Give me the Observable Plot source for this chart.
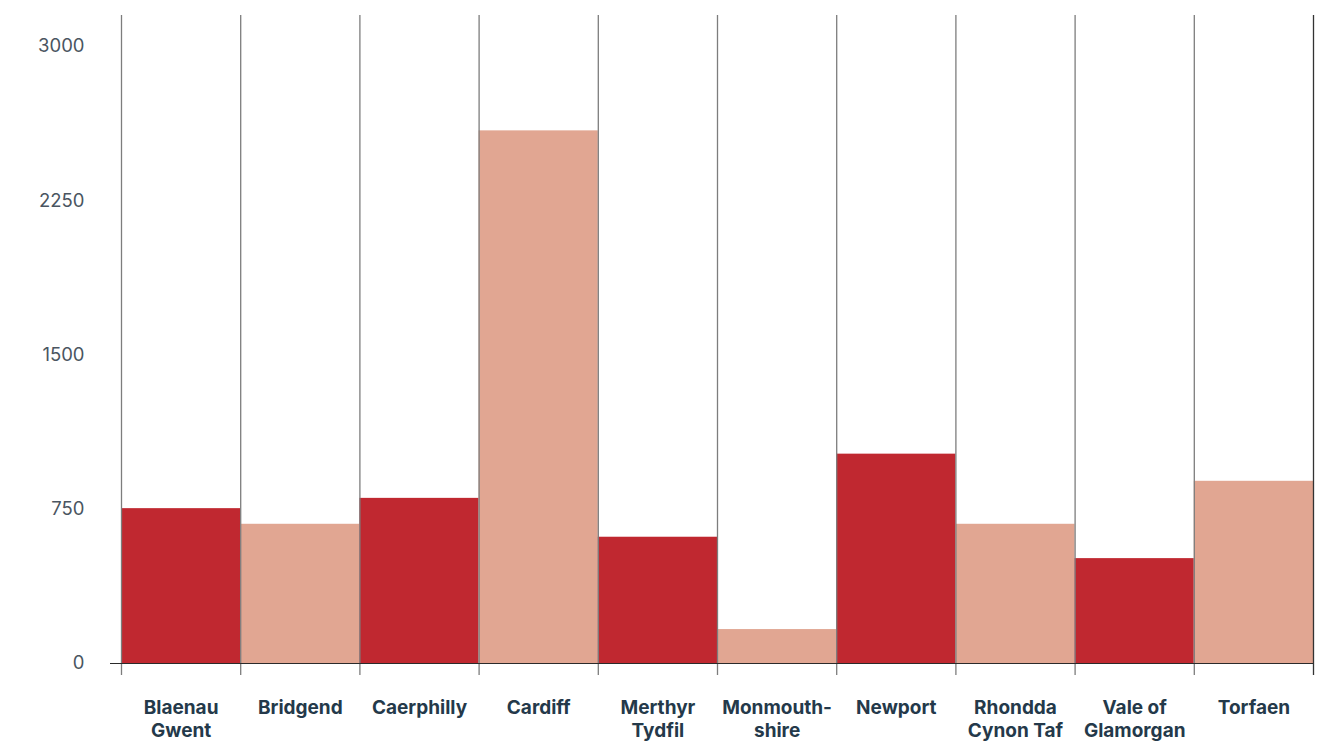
<!DOCTYPE html>
<html>
<head>
<meta charset="utf-8">
<script src="https://cdn.jsdelivr.net/npm/d3@7"></script>
<script src="https://cdn.jsdelivr.net/npm/@observablehq/plot@0.6"></script>
<style>
  html, body { margin: 0; padding: 0; background: #fff; }
  #chart svg { display: block; }
</style>
</head>
<body>
<div id="chart"></div>
<script>
const categories = ["Blaenau\nGwent", "Bridgend", "Caerphilly", "Cardiff", "Merthyr\nTydfil", "Monmouth-\nshire", "Newport", "Rhondda\nCynon Taf", "Vale of\nGlamorgan", "Torfaen"];
const values = [753, 677, 803, 2590, 614, 165, 1018, 677, 510, 886];
const yTicks = [0, 750, 1500, 2250, 3000];
const colors = ["#c02830", "#e1a692"];

const data = categories.map((name, i) => ({name, i, value: values[i], shade: i % 2}));
const boundaries = d3.range(categories.length + 1);
const yMax = 3151;

const chart = Plot.plot({
  width: 1329,
  height: 742,
  marginLeft: 121,
  marginRight: 16,
  marginTop: 15,
  marginBottom: 79,
  style: {fontFamily: "Inter, 'Noto Sans', sans-serif", background: "#fff"},
  x: {domain: [0, categories.length], axis: null},
  y: {domain: [0, yMax], axis: null},
  marks: [
    Plot.rectY(data, {x1: d => d.i, x2: d => d.i + 1, y: "value", fill: d => colors[d.shade]}),
    Plot.ruleX(boundaries, {x: d => d, y1: yMax, y2: 0, insetBottom: -12, stroke: d => d === categories.length ? "#333" : "#7d7d7d", strokeWidth: 1.3}),
    Plot.ruleY([0], {insetLeft: -11, stroke: "#2a2a2a", strokeWidth: 1.2}),
    Plot.text(yTicks, {x: 0, y: d => d, text: d => String(d), textAnchor: "end", dx: -37, fontSize: 18.5, fill: "#4a5561"}),
    Plot.text(data, {x: d => d.i + 0.5, y: 0, text: "name", lineAnchor: "top", dy: 34, fontSize: 19, fontWeight: 700, fill: "#24394a", lineHeight: 1.22})
  ]
});
document.getElementById("chart").appendChild(chart);
</script>
</body>
</html>
